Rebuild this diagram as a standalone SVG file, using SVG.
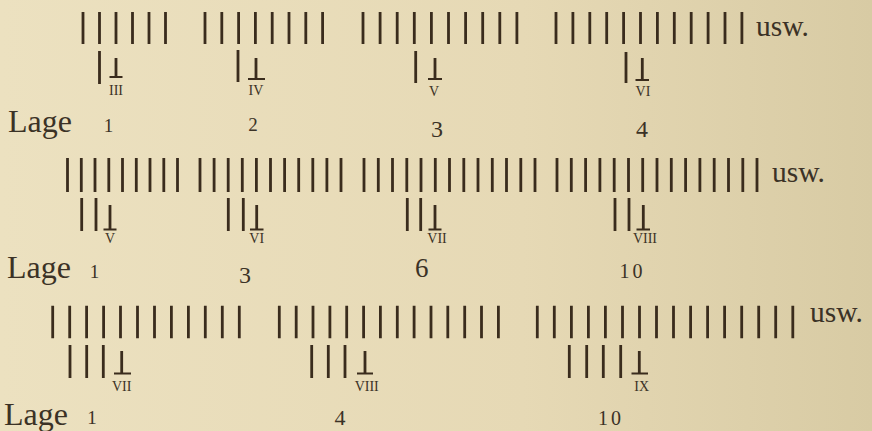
<svg xmlns="http://www.w3.org/2000/svg" width="872" height="431" viewBox="0 0 872 431">
<defs>
<linearGradient id="bg" x1="0" y1="0" x2="1" y2="0">
<stop offset="0" stop-color="#ece1c0"/>
<stop offset="0.6" stop-color="#e6d9b5"/>
<stop offset="1" stop-color="#d8cba4"/>
</linearGradient>
<style>
.bar{stroke:#3a2c1d;stroke-width:2.8;fill:none}
.cr{stroke:#3a2c1d;stroke-width:2;fill:none}
.t{font-family:"Liberation Serif","Times New Roman",serif;fill:#3b3226}
.lage{font-size:32px}
.usw{font-size:29.5px}
.rn{font-size:14px;text-anchor:middle}
.n{text-anchor:middle}
</style>
</defs>
<rect width="872" height="431" fill="url(#bg)"/>

<g id="row1">
<g id="r1-bundles">
<path class="bar" d="M83 12V44M99.5 12V44M116 12V44M132.5 12V44M149 12V44M165.5 12V44"/>
<path class="bar" d="M205 12V44M221.8 12V44M238.6 12V44M255.4 12V44M272.2 12V44M289 12V44M305.8 12V44M322.6 12V44"/>
<path class="bar" d="M363 12V44M380.1 12V44M397.2 12V44M414.3 12V44M431.4 12V44M448.5 12V44M465.6 12V44M482.7 12V44M499.8 12V44M516.9 12V44"/>
<path class="bar" d="M556 12V44M572.9 12V44M589.8 12V44M606.7 12V44M623.6 12V44M640.5 12V44M657.4 12V44M674.3 12V44M691.2 12V44M708.1 12V44M725 12V44M741.9 12V44"/>
<text class="t usw" x="756" y="36">usw.</text>
</g>
<g id="r1-marks">
<path class="bar" d="M99.5 51V84M116 58V77M238 50V82M256 58V79M415.7 51V83M435 58V79M626 52V83M642.3 58V80"/>
<path class="cr" d="M109.5 77H122.5M248 79H265M428 79H442M635.5 80H649"/>
<text class="t rn" x="116" y="95">III</text>
<text class="t rn" x="256" y="95">IV</text>
<text class="t rn" x="434" y="96">V</text>
<text class="t rn" x="643" y="96">VI</text>
</g>
<g id="r1-labels">
<text class="t lage" x="8" y="132">Lage</text>
<text class="t n" x="108.5" y="132" font-size="19">1</text>
<text class="t n" x="253" y="131" font-size="19">2</text>
<text class="t n" x="437" y="137" font-size="24">3</text>
<text class="t n" x="642" y="137" font-size="24">4</text>
</g>
</g>

<g id="row2">
<g id="r2-bundles">
<path class="bar" d="M67.5 158V192M81.3 158V192M95 158V192M108.8 158V192M122.5 158V192M136.3 158V192M150 158V192M163.8 158V192M177.5 158V192"/>
<path class="bar" d="M200 158V192M214.1 158V192M228.2 158V192M242.3 158V192M256.4 158V192M270.5 158V192M284.6 158V192M298.7 158V192M312.8 158V192M326.9 158V192M341 158V192"/>
<path class="bar" d="M364 158V192M378.3 158V192M392.5 158V192M406.8 158V192M421 158V192M435.3 158V192M449.5 158V192M463.8 158V192M478 158V192M492.3 158V192M506.5 158V192M520.8 158V192M535 158V192"/>
<path class="bar" d="M557 158V192M571.3 158V192M585.6 158V192M599.9 158V192M614.2 158V192M628.5 158V192M642.7 158V192M657 158V192M671.3 158V192M685.6 158V192M699.9 158V192M714.2 158V192M728.5 158V192M742.8 158V192M757 158V192"/>
<text class="t usw" x="772" y="182">usw.</text>
</g>
<g id="r2-marks">
<path class="bar" d="M81.7 198V231M96 198V231M110 205V229M228.3 198V231M243.3 198V231M256.7 205V229M407.3 198V231M420.7 198V231M435 205V229M615 198V231M629 198V231M643.3 205V229"/>
<path class="cr" d="M103.5 229.5H116.5M250 229.5H263.5M428.5 229.5H441.5M636.5 229.5H650"/>
<text class="t rn" x="110" y="243">V</text>
<text class="t rn" x="256.7" y="243">VI</text>
<text class="t rn" x="437" y="243">VII</text>
<text class="t rn" x="645" y="243">VIII</text>
</g>
<g id="r2-labels">
<text class="t lage" x="7" y="278">Lage</text>
<text class="t n" x="94.5" y="278" font-size="19">1</text>
<text class="t n" x="245" y="283" font-size="24">3</text>
<text class="t n" x="421.7" y="277" font-size="27">6</text>
<text class="t n" x="632.5" y="278" font-size="20" letter-spacing="3">10</text>
</g>
</g>

<g id="row3">
<g id="r3-bundles">
<path class="bar" d="M52.7 305.7V338.3M69.7 305.7V338.3M86.6 305.7V338.3M103.6 305.7V338.3M120.5 305.7V338.3M137.5 305.7V338.3M154.5 305.7V338.3M171.4 305.7V338.3M188.4 305.7V338.3M205.3 305.7V338.3M222.3 305.7V338.3M239.3 305.7V338.3"/>
<path class="bar" d="M279.3 305.7V338.3M296.2 305.7V338.3M313 305.7V338.3M329.9 305.7V338.3M346.7 305.7V338.3M363.6 305.7V338.3M380.4 305.7V338.3M397.3 305.7V338.3M414.1 305.7V338.3M431 305.7V338.3M447.8 305.7V338.3M464.7 305.7V338.3M481.5 305.7V338.3M498.4 305.7V338.3"/>
<path class="bar" d="M537.3 305.7V338.3M554.3 305.7V338.3M571.4 305.7V338.3M588.4 305.7V338.3M605.4 305.7V338.3M622.5 305.7V338.3M639.5 305.7V338.3M656.5 305.7V338.3M673.5 305.7V338.3M690.6 305.7V338.3M707.6 305.7V338.3M724.6 305.7V338.3M741.7 305.7V338.3M758.7 305.7V338.3M775.7 305.7V338.3M792.8 305.7V338.3"/>
<text class="t usw" x="810" y="322">usw.</text>
</g>
<g id="r3-marks">
<path class="bar" d="M70 345V378M86.7 345V378M103.3 345V378M121.7 351V373M311.7 345V378M328.3 345V378M345 345V378M365 351V373M569.3 345V378M586.7 345V378M603.3 345V378M620.7 345V378M639.3 351V373"/>
<path class="cr" d="M114 373.5H131M357 373.5H373M631.5 373.5H648"/>
<text class="t rn" x="121.7" y="391">VII</text>
<text class="t rn" x="366.7" y="391">VIII</text>
<text class="t rn" x="641.7" y="391">IX</text>
</g>
<g id="r3-labels">
<text class="t lage" x="4" y="425">Lage</text>
<text class="t n" x="92" y="424" font-size="19">1</text>
<text class="t n" x="340" y="425" font-size="22">4</text>
<text class="t n" x="611" y="425" font-size="20" letter-spacing="3">10</text>
</g>
</g>
</svg>
